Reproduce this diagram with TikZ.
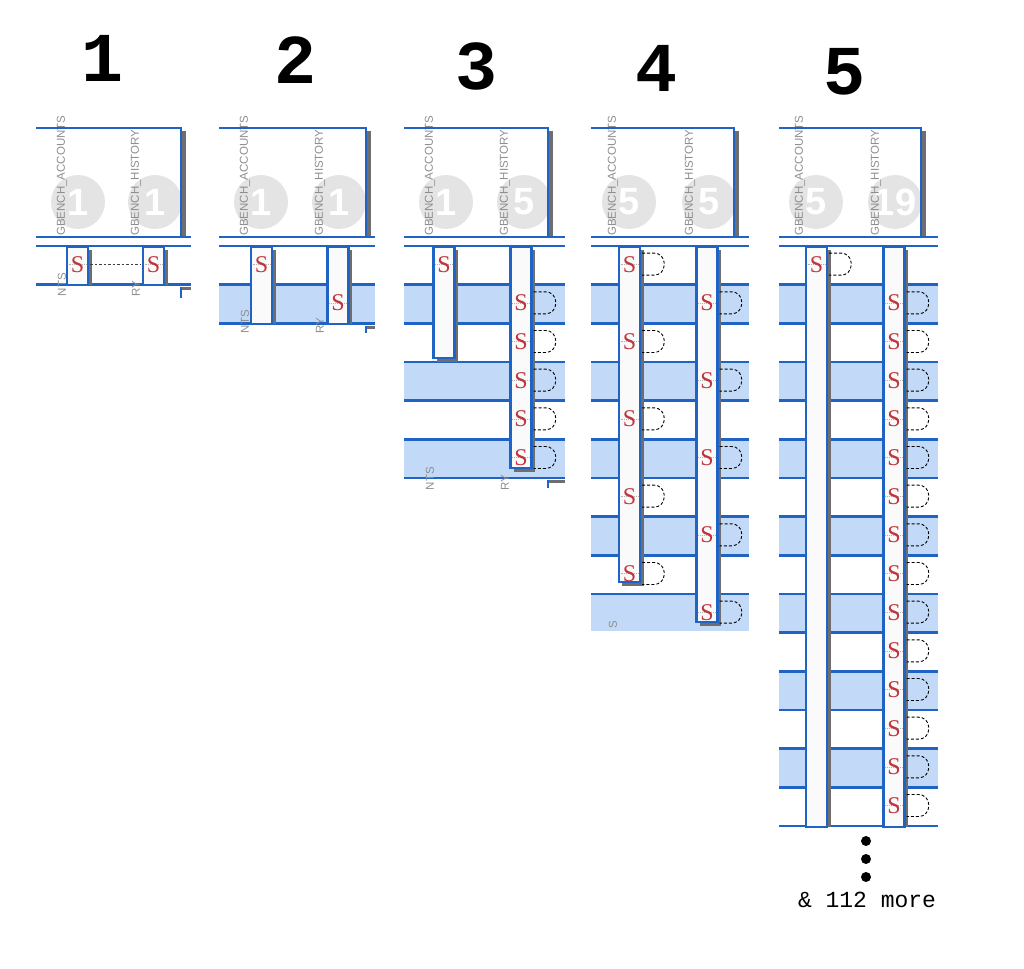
\documentclass[tikz,border=0pt]{standalone}
\usepackage{fontspec}
\setmainfont{Liberation Serif}
\setsansfont{Liberation Sans}
\setmonofont{Liberation Mono}
\usetikzlibrary{positioning}

\definecolor{lineblue}{HTML}{1F64C4}
\definecolor{rowblue}{HTML}{C2DAF7}
\definecolor{shadowgray}{HTML}{6E6E6E}
\definecolor{circgray}{HTML}{E4E4E4}
\definecolor{colwhite}{HTML}{FAFAFA}
\definecolor{sred}{HTML}{C0343A}
\definecolor{labelgray}{HTML}{8E8E8E}

\begin{document}
\begin{tikzpicture}[x=1pt, y=-1pt,
    tableline/.style={draw=lineblue, line width=2.6pt},
    colbox/.style={fill=colwhite, draw=lineblue, line width=2.6pt},
    panelnum/.style={font=\ttfamily\bfseries\fontsize{70}{70}\selectfont, inner sep=0pt},
    countnum/.style={text=white, font=\sffamily\bfseries\fontsize{38}{38}\selectfont, inner sep=0pt},
    tablabel/.style={text=labelgray, font=\sffamily\fontsize{11.5}{12}\selectfont, rotate=90, inner sep=0pt},
    sletter/.style={text=sred, font=\fontsize{24}{24}\selectfont, minimum width=21pt, minimum height=22pt, inner sep=0pt},
    strike/.style={draw=gray!60, densely dotted, line width=0.9pt},
    dloop/.style={draw=black, dash pattern=on 3pt off 2pt, line width=0.9pt, rounded corners=10pt},
    pairlink/.style={draw=black!75, dash pattern=on 2.5pt off 2pt, line width=1.2pt},
    moredot/.style={circle, fill=black, inner sep=0pt, minimum size=10pt}
]
\useasboundingbox (0,0) rectangle (1024,968);

% Step numbers
\foreach \x/\y/\t in {103/58/1, 295/60/2, 476/66/3, 656/68/4, 844/72/5}
    \node[panelnum] (num\t) at (\x,\y) {\t};

% Tables: header, counters and rows
\foreach \xl/\xr/\xh/\nrows/\ax/\hx/\ca/\cb/\yend in {
    36/191/181/1/62/136/1/1/298,
    219/375/366/2/245/320/1/1/326,
    404/565/548/6/430/505/1/5/488,
    591/749/734/10/613/690/5/5/630,
    779/938/921/15/800/876/5/19/829}{
  \begin{scope}
    \clip (\xl,100) rectangle (\xr,\yend);
    \foreach \i in {1,...,\nrows}{
      \ifodd\i\else
        \fill[rowblue] (\xl,{246+(\i-1)*38.67}) rectangle (\xr,{246+\i*38.67});
      \fi
    }
    \foreach \i in {0,...,\nrows}
      \draw[tableline] (\xl,{246+\i*38.67}) -- (\xr,{246+\i*38.67});
    \begin{scope}
      \clip (\xl,128) rectangle (\xh,237);
      \fill[circgray] (\ax+16,202) circle[radius=27pt];
      \fill[circgray] (\hx+19,202) circle[radius=27pt];
      \node[countnum] (ca-\xl) at (\ax+16,202) {\ca};
      \node[countnum] (cb-\xl) at (\hx+19,202) {\cb};
    \end{scope}
    \node[tablabel, anchor=west] (la-\xl) at (\ax,236) {GBENCH\_ACCOUNTS};
    \node[tablabel, anchor=west] (lh-\xl) at (\hx,236) {GBENCH\_HISTORY};
    \fill[shadowgray] (\xh+1,131) rectangle (\xh+4.5,237);
    \draw[tableline] (\xl,128) -- (\xh,128) -- (\xh,237);
    \draw[tableline] (\xl,237) -- (\xr,237);
  \end{scope}
}

% Cut-off labels under the tables
\foreach \xl/\xr/\xh/\ax/\hx/\ytop/\ycorner/\yend in {
    36/191/181/62/136/273/287/298,
    219/375/366/245/320/310/326/333,
    404/565/548/430/505/467/480/488}{
  \begin{scope}
    \clip (\xl,\ytop-2) rectangle (\xr,\yend);
    \node[tablabel, anchor=east] (fa-\xl) at (\ax,\ytop) {NTS};
    \node[tablabel, anchor=east] (fh-\xl) at (\hx,\ytop+8) {RY};
    \fill[shadowgray] (\xh+1,\ycorner) rectangle (\xr,\ycorner+3);
    \draw[tableline] (\xh,\ycorner) -- (\xh,\yend);
  \end{scope}
}
\begin{scope}
  \clip (591,600) rectangle (749,630);
  \node[tablabel, anchor=east] (fa-591) at (613,621) {S};
\end{scope}

% Columns
\foreach \cx/\yb/\ys in {77.5/285/285, 153.5/285/285, 261.5/324/324, 338/324/324,
    444/358/362, 521/468/472, 629.5/582/586, 707/622/626, 816.5/827/827, 894/827/827}{
  \fill[shadowgray] (\cx-7.5,250) rectangle (\cx+14,\ys);
  \draw[colbox] (\cx-10.5,247) rectangle (\cx+10.5,\yb);
}

% S marks, with loops
\foreach \nm/\cx/\rws/\withd in {1a/77.5/{0}/0, 1b/153.5/{0}/0, 2a/261.5/{0}/0, 2b/338/{1}/0,
    3a/444/{0}/0, 3b/521/{1,...,5}/1, 4a/629.5/{0,2,...,8}/1, 4b/707/{1,3,...,9}/1,
    5a/816.5/{0}/1, 5b/894/{1,...,14}/1}{
  \foreach \rw in \rws {
    \draw[strike] ([xshift=1.5pt]\cx-10.5,{245+(\rw+0.5)*38.67}) -- (\cx+9,{245+(\rw+0.5)*38.67});
    \node[sletter] (s\nm-\rw) at (\cx,{245+(\rw+0.5)*38.67}) {S};
    \ifnum\withd=1
      \draw[dloop] ([xshift=2pt]s\nm-\rw.north east) -- ++(22,0) -- ++(0,22) -- ++(-22,0);
    \fi
  }
}
\draw[pairlink] ([xshift=2pt]s1a-0.east) -- ([xshift=-2pt]s1b-0.west);

% More below
\node[moredot] (dot1) at (866,841) {};
\node[moredot] (dot2) at (866,859) {};
\node[moredot] (dot3) at (866,877) {};
\node[font=\ttfamily\fontsize{23}{23}\selectfont, inner sep=0pt] (more) at (867,900) {\& 112 more};
\end{tikzpicture}
\end{document}
